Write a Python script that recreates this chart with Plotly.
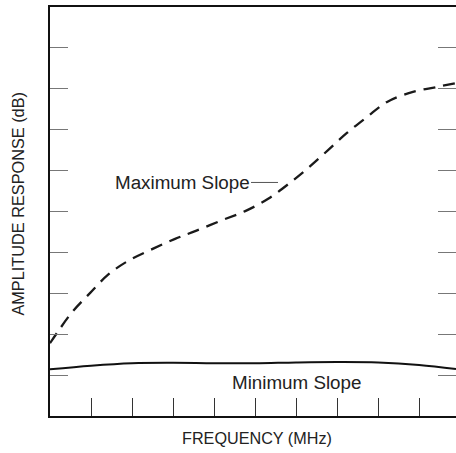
import plotly.graph_objects as go

# Data
freq_max = [0.0, 0.17, 0.54, 0.98, 1.41, 1.90, 2.49, 3.05, 3.54, 4.20, 4.76,
            5.32, 5.85, 6.29, 6.78, 7.24, 7.73, 8.22, 8.83, 9.41, 9.90]
amp_max = [1.78, 2.03, 2.54, 3.01, 3.45, 3.79, 4.08, 4.33, 4.52, 4.79, 5.01,
           5.31, 5.70, 6.06, 6.50, 6.92, 7.31, 7.68, 7.92, 8.04, 8.14]

freq_min = [0, 1, 2, 3, 4, 5, 6, 7, 8, 9, 9.9]
amp_min = [1.14, 1.23, 1.29, 1.30, 1.29, 1.29, 1.31, 1.32, 1.31, 1.25, 1.15]

tick_vals = [1, 2, 3, 4, 5, 6, 7, 8, 9]

FONT = "Liberation Sans, Arial, sans-serif"

fig = go.Figure()
fig.add_trace(go.Scatter(x=freq_max, y=amp_max, mode="lines",
                         line=dict(color="#1a1a1a", width=2.3, dash="12px,8px", shape="spline"),
                         hoverinfo="skip", showlegend=False))
fig.add_trace(go.Scatter(x=freq_min, y=amp_min, mode="lines",
                         line=dict(color="#111111", width=2, shape="spline"),
                         hoverinfo="skip", showlegend=False))
# dummy trace for right axis ticks
fig.add_trace(go.Scatter(x=[None], y=[None], yaxis="y2", showlegend=False))

fig.update_layout(
    width=456, height=452,
    margin=dict(l=50, r=0, t=7, b=36),
    paper_bgcolor="white", plot_bgcolor="white",
    font=dict(family=FONT, color="#222222"),
    xaxis=dict(range=[0, 9.9], showgrid=False, zeroline=False,
               showline=True, linecolor="#111111", linewidth=1.5, mirror=True,
               ticks="inside", ticklen=18, tickwidth=1.2, tickcolor="#333333",
               tickvals=tick_vals, showticklabels=False),
    yaxis=dict(range=[0, 10], showgrid=False, zeroline=False,
               showline=True, linecolor="#111111", linewidth=1.5,
               ticks="inside", ticklen=18, tickwidth=1.2, tickcolor="#777777",
               tickvals=tick_vals, showticklabels=False),
    yaxis2=dict(range=[0, 10], overlaying="y", side="right", anchor="free", position=1,
                showgrid=False, zeroline=False, showline=False,
                ticks="inside", ticklen=18, tickwidth=1.2, tickcolor="#777777",
                tickvals=tick_vals, showticklabels=False),
)

fig.add_annotation(x=5.56, y=5.71, xref="x", yref="y", text="Maximum Slope",
                   showarrow=True, arrowhead=0, arrowwidth=1, arrowcolor="#555555",
                   ax=-96, ay=0, standoff=0,
                   font=dict(size=18.8, family=FONT, color="#222222"))
fig.add_annotation(x=6.02, y=0.83, xref="x", yref="y", text="Minimum Slope",
                   showarrow=False, font=dict(size=18.8, family=FONT, color="#222222"))
fig.add_annotation(x=0.51, y=0, xref="paper", yref="paper", yshift=-22,
                   xanchor="center", yanchor="middle",
                   text="FREQUENCY (MHz)", showarrow=False,
                   font=dict(size=16.2, family=FONT, color="#222222"))
fig.add_annotation(x=0, y=0.517, xref="paper", yref="paper", xshift=-32,
                   xanchor="center", yanchor="middle",
                   text="AMPLITUDE RESPONSE (dB)", textangle=-90, showarrow=False,
                   font=dict(size=16.3, family=FONT, color="#222222"))

fig.write_html("out.html", config={"displayModeBar": False},
               post_script="document.body.style.margin='0px';")
